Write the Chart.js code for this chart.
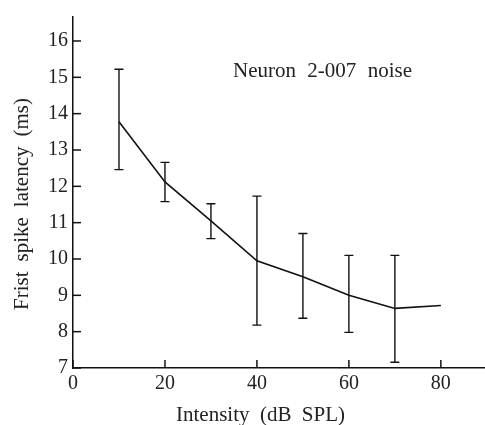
<!DOCTYPE html>
<html>
<head>
<meta charset="utf-8">
<script src="https://cdn.jsdelivr.net/npm/chart.js@4.4.1/dist/chart.umd.min.js"></script>
<style>
  html, body { margin: 0; padding: 0; background: #fff; }
  #wrap { width: 485px; height: 425px; position: relative; }
</style>
</head>
<body>
<div id="wrap"><canvas id="c" width="485" height="425"></canvas></div>
<script>
// ---- data ----
const intensities = [10, 20, 30, 40, 50, 60, 70, 80];
const latencyMean = [13.78, 12.12, 11.05, 9.95, 9.51, 9.0, 8.64, 8.72];
const errUpper    = [15.22, 12.66, 11.52, 11.73, 10.70, 10.10, 10.10, null];
const errLower    = [12.46, 11.58, 10.56, 8.18, 8.37, 7.98, 7.16, null];
const xTicks = [0, 20, 40, 60, 80];
const yTicks = [7, 8, 9, 10, 11, 12, 13, 14, 15, 16];
const annotationText = 'Neuron 2-007 noise';
const xTitle = 'Intensity (dB SPL)';
const yTitle = 'Frist spike latency (ms)';

const SERIF = '"Liberation Serif", "Times New Roman", serif';

// draw text with widened word gaps so that it spans `width`, starting at x (left)
function spacedText(ctx, text, x, y, width) {
  const words = text.split(' ');
  const widths = words.map(w => ctx.measureText(w).width);
  const total = widths.reduce((a, b) => a + b, 0);
  const gap = words.length > 1 ? (width - total) / (words.length - 1) : 0;
  let cx = x;
  ctx.textAlign = 'left';
  words.forEach((w, i) => { ctx.fillText(w, cx, y); cx += widths[i] + gap; });
}

const extras = {
  id: 'extras',
  afterDatasetsDraw(chart) {
    const ctx = chart.ctx;
    const xs = chart.scales.x, ys = chart.scales.y;
    const area = chart.chartArea;
    ctx.save();
    ctx.strokeStyle = '#111';
    ctx.lineWidth = 1.4;
    // error bars
    intensities.forEach((v, i) => {
      if (errUpper[i] == null) return;
      const px = xs.getPixelForValue(v);
      const pt = ys.getPixelForValue(errUpper[i]);
      const pb = ys.getPixelForValue(errLower[i]);
      ctx.beginPath();
      ctx.moveTo(px, pt); ctx.lineTo(px, pb);
      ctx.moveTo(px - 4.5, pt); ctx.lineTo(px + 4.5, pt);
      ctx.moveTo(px - 4.5, pb); ctx.lineTo(px + 4.5, pb);
      ctx.stroke();
    });
    // inward ticks
    ctx.lineWidth = 1.5;
    yTicks.forEach(t => {
      const py = ys.getPixelForValue(t);
      ctx.beginPath(); ctx.moveTo(area.left, py); ctx.lineTo(area.left + 8, py); ctx.stroke();
    });
    xTicks.forEach(t => {
      const px = xs.getPixelForValue(t);
      ctx.beginPath(); ctx.moveTo(px, area.bottom); ctx.lineTo(px, area.bottom - 8); ctx.stroke();
    });
    // texts
    ctx.fillStyle = '#222';
    ctx.textBaseline = 'alphabetic';
    ctx.font = '21px ' + SERIF;
    spacedText(ctx, annotationText, 233, 77, 179);
    spacedText(ctx, xTitle, 176, 421, 169);
    ctx.translate(28, 310);
    ctx.rotate(-Math.PI / 2);
    spacedText(ctx, yTitle, 0, 0, 212);
    ctx.restore();
  }
};

new Chart(document.getElementById('c'), {
  type: 'line',
  data: {
    datasets: [{
      data: intensities.map((x, i) => ({ x, y: latencyMean[i] })),
      borderColor: '#111',
      borderWidth: 1.6,
      pointRadius: 0,
      tension: 0,
      fill: false
    }]
  },
  options: {
    responsive: false,
    animation: false,
    devicePixelRatio: 1,
    layout: { padding: { left: 0, right: 0, top: 16, bottom: 0 } },
    plugins: { legend: { display: false }, tooltip: { enabled: false } },
    scales: {
      x: {
        type: 'linear',
        min: 0, max: 89.6,
        grid: { display: false, drawTicks: false },
        border: { display: true, color: '#111', width: 1.5 },
        afterFit: s => { s.height = 57; },
        afterBuildTicks: s => { s.ticks = xTicks.map(v => ({ value: v })); },
        ticks: { color: '#222', padding: 4, font: { family: SERIF, size: 20 }, maxRotation: 0 }
      },
      y: {
        type: 'linear',
        min: 7, max: 16.66,
        grid: { display: false, drawTicks: false },
        border: { display: true, color: '#111', width: 1.5 },
        afterFit: s => { s.width = 73; },
        afterBuildTicks: s => { s.ticks = yTicks.map(v => ({ value: v })); },
        ticks: { color: '#222', padding: 5, font: { family: SERIF, size: 20 } }
      }
    }
  },
  plugins: [extras]
});
</script>
</body>
</html>
